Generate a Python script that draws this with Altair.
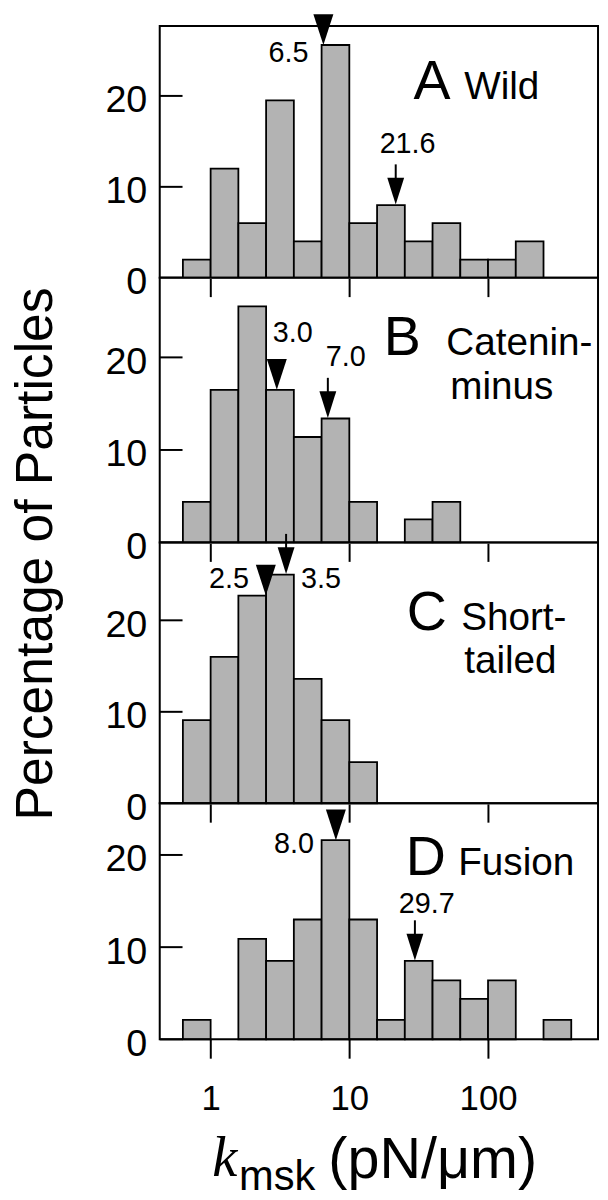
import altair as alt
import pandas as pd

FONT = "Liberation Sans"

# log-spaced bins (5 per decade): lower and upper edges, pN/um
bin_lo = [0.631, 1.0, 1.585, 2.512, 3.981, 6.310, 10.0, 15.85, 25.12, 39.81, 63.10, 100.0, 158.5, 251.2]
bin_hi = [1.0, 1.585, 2.512, 3.981, 6.310, 10.0, 15.85, 25.12, 39.81, 63.10, 100.0, 158.5, 251.2, 398.1]

# percentage of particles per bin
pct_wild = [2.0, 12.0, 6.0, 19.5, 4.0, 25.6, 6.0, 8.0, 4.0, 6.0, 2.0, 2.0, 4.0, 0.0]
pct_catenin = [4.4, 16.5, 25.5, 16.5, 11.4, 13.4, 4.4, 0.0, 2.5, 4.4, 0.0, 0.0, 0.0, 0.0]
pct_short = [9.1, 16.0, 22.7, 25.0, 13.6, 9.1, 4.5, 0.0, 0.0, 0.0, 0.0, 0.0, 0.0, 0.0]
pct_fusion = [2.1, 0.0, 10.9, 8.5, 13.0, 21.6, 13.0, 2.1, 8.5, 6.4, 4.4, 6.4, 0.0, 2.1]

# marked values (big triangle / small arrow)
tri_values = [6.5, 3.0, 2.5, 8.0]
arrow_values = [21.6, 7.0, 3.5, 29.7]

panel_letters = ["A", "B", "C", "D"]
panel_names = [["Wild"], ["Catenin-", "minus"], ["Short-", "tailed"], ["Fusion"]]

x_ticks = [1, 10, 100]
y_ticks = [0, 10, 20]
x_domain = [0.4295, 620.8]

TRI = "M-0.65,-1L0.65,-1L0,1Z"
HEAD = "M-0.63,-1L0.63,-1L0,1Z"

WIDTH = 442


def tip_of(v, pct):
    for lo, hi, p in zip(bin_lo, bin_hi, pct):
        if lo <= v < hi:
            return p
    return 0.0


def panel(i, pct, height, ytop, style, last=False):
    df = pd.DataFrame({"lo": bin_lo, "hi": bin_hi, "pct": pct})
    df = df[df.pct > 0]
    xs = alt.Scale(type="log", domain=x_domain, nice=False)
    ys = alt.Scale(domain=[0, ytop], nice=False, zero=True)
    xaxis = alt.Axis(values=x_ticks, ticks=True, tickSize=19, tickWidth=2, tickColor="black",
                     domain=False, grid=False, labels=last, title=None,
                     labelFontSize=35, labelPadding=24, labelColor="black", labelFont=FONT,
                     format="d", labelFlush=False)
    yaxis = alt.Axis(values=y_ticks, ticks=False, tickSize=0, domain=False, grid=False,
                     title=None, labelFontSize=38, labelPadding=13, labelOffset=5,
                     labelColor="black", labelFont=FONT)

    def X(f):
        return alt.X(f, scale=xs, axis=xaxis)

    def Y(f):
        return alt.Y(f, scale=ys, axis=yaxis)

    bars = alt.Chart(df).mark_rect(fill="#b3b3b3", stroke="black", strokeWidth=1.8).encode(
        x=X("lo:Q"), x2="hi:Q", y=Y("pct:Q"), y2=alt.datum(0))
    yt = alt.Chart(pd.DataFrame({"t": y_ticks})).mark_rule(color="black", strokeWidth=2).encode(
        y=Y("t:Q"), x=alt.value(0), x2=alt.value(23))

    tv = tri_values[i]
    av = arrow_values[i]
    tri_df = pd.DataFrame({"v": [tv], "tip": [tip_of(tv, pct)], "lab": [f"{tv:.1f}"]})
    arr_df = pd.DataFrame({"v": [av], "tip": [tip_of(av, pct)], "lab": [f"{av:.1f}"]})

    tri = alt.Chart(tri_df).mark_point(shape=TRI, filled=True, size=961, color="black",
                                       opacity=1, yOffset=-15.5).encode(
        x=X("v:Q"), y=Y("tip:Q"))
    tri_lab = alt.Chart(tri_df).mark_text(align=style["tri_align"], baseline="middle",
                                          dx=style["tri_dx"], dy=style["tri_dy"],
                                          fontSize=29, font=FONT, color="black").encode(
        x=X("v:Q"), y=Y("tip:Q"), text="lab:N")
    stem = alt.Chart(arr_df).mark_rule(color="black", strokeWidth=2, yOffset=-20,
                                       y2Offset=-41).encode(
        x=X("v:Q"), y=Y("tip:Q"), y2="tip:Q")
    head = alt.Chart(arr_df).mark_point(shape=HEAD, filled=True, size=729, color="black",
                                        opacity=1, yOffset=-14).encode(
        x=X("v:Q"), y=Y("tip:Q"))
    arr_lab = alt.Chart(arr_df).mark_text(align=style["arr_align"], baseline="middle",
                                          dx=style["arr_dx"], dy=style["arr_dy"],
                                          fontSize=29, font=FONT, color="black").encode(
        x=X("v:Q"), y=Y("tip:Q"), text="lab:N")

    letter = alt.Chart(pd.DataFrame({"s": [panel_letters[i]]})).mark_text(
        align="left", baseline="alphabetic", fontSize=56, font=FONT, color="black").encode(
        text="s:N", x=alt.value(style["lx"]), y=alt.value(style["ly"]))
    frame = alt.Chart(pd.DataFrame({"s": [panel_letters[i]]})).mark_rect(
        fill="white", fillOpacity=0, stroke="black", strokeWidth=2).encode(
        x=alt.value(0), x2=alt.value(WIDTH), y=alt.value(0), y2=alt.value(height))
    layers = [bars, yt, tri, tri_lab, stem, head, arr_lab, letter]
    for k, line in enumerate(panel_names[i]):
        layers.append(alt.Chart(pd.DataFrame({"s": [line]})).mark_text(
            align="left", baseline="alphabetic", fontSize=39, font=FONT, color="black").encode(
            text="s:N", x=alt.value(style["nx"][k]), y=alt.value(style["ny"][k])))
    if "extra" in style:
        layers.extend(style["extra"])
    layers.append(frame)
    return alt.layer(*layers).properties(width=WIDTH, height=height)


ytitle = alt.Chart(pd.DataFrame({"s": ["Percentage of Particles"]})).mark_text(
    angle=270, align="center", baseline="alphabetic", fontSize=52, font=FONT, color="black").encode(
    text="s:N", x=alt.value(-109), y=alt.value(11.5))

xt_k = alt.Chart(pd.DataFrame({"s": ["k"]})).mark_text(
    align="left", baseline="alphabetic", fontSize=57, font="Liberation Serif",
    fontStyle="italic", color="black").encode(text="s:N", x=alt.value(53), y=alt.value(376))
xt_sub = alt.Chart(pd.DataFrame({"s": ["msk"]})).mark_text(
    align="left", baseline="alphabetic", fontSize=42, font=FONT, color="black").encode(
    text="s:N", x=alt.value(80), y=alt.value(390))
xt_unit = alt.Chart(pd.DataFrame({"s": ["(pN/\u03bcm)"]})).mark_text(
    align="left", baseline="alphabetic", fontSize=58, font=FONT, color="black").encode(
    text="s:N", x=alt.value(170), y=alt.value(378))

styles = [
    dict(tri_align="right", tri_dx=-15, tri_dy=8, arr_align="center", arr_dx=12, arr_dy=-61,
         lx=256, ly=74, nx=[307], ny=[74]),
    dict(tri_align="left", tri_dx=-4, tri_dy=-57, arr_align="left", arr_dx=-2, arr_dy=-62,
         lx=226, ly=78, nx=[289, 293], ny=[78, 122]),
    dict(tri_align="right", tri_dx=-17, tri_dy=-17, arr_align="left", arr_dx=15, arr_dy=5,
         lx=249, ly=88, nx=[304, 307], ny=[88, 132], extra=[ytitle]),
    dict(tri_align="right", tri_dx=-22, tri_dy=4, arr_align="center", arr_dx=12, arr_dy=-57,
         lx=248, ly=72, nx=[301], ny=[72], extra=[xt_k, xt_sub, xt_unit]),
]

pA = panel(0, pct_wild, 254, 27.7, styles[0])
pB = panel(1, pct_catenin, 267, 28.6, styles[1])
pC = panel(2, pct_short, 263, 28.5, styles[2])
pD = panel(3, pct_fusion, 238, 25.6, styles[3], last=True)

chart = alt.vconcat(pA, pB, pC, pD, spacing=0, bounds="flush").properties(
    padding={"left": 1, "top": 0, "right": 0, "bottom": 0}
).configure_view(stroke="black", strokeWidth=2).configure(font=FONT)

chart.save("out.html", embed_options={"renderer": "svg", "actions": False})
